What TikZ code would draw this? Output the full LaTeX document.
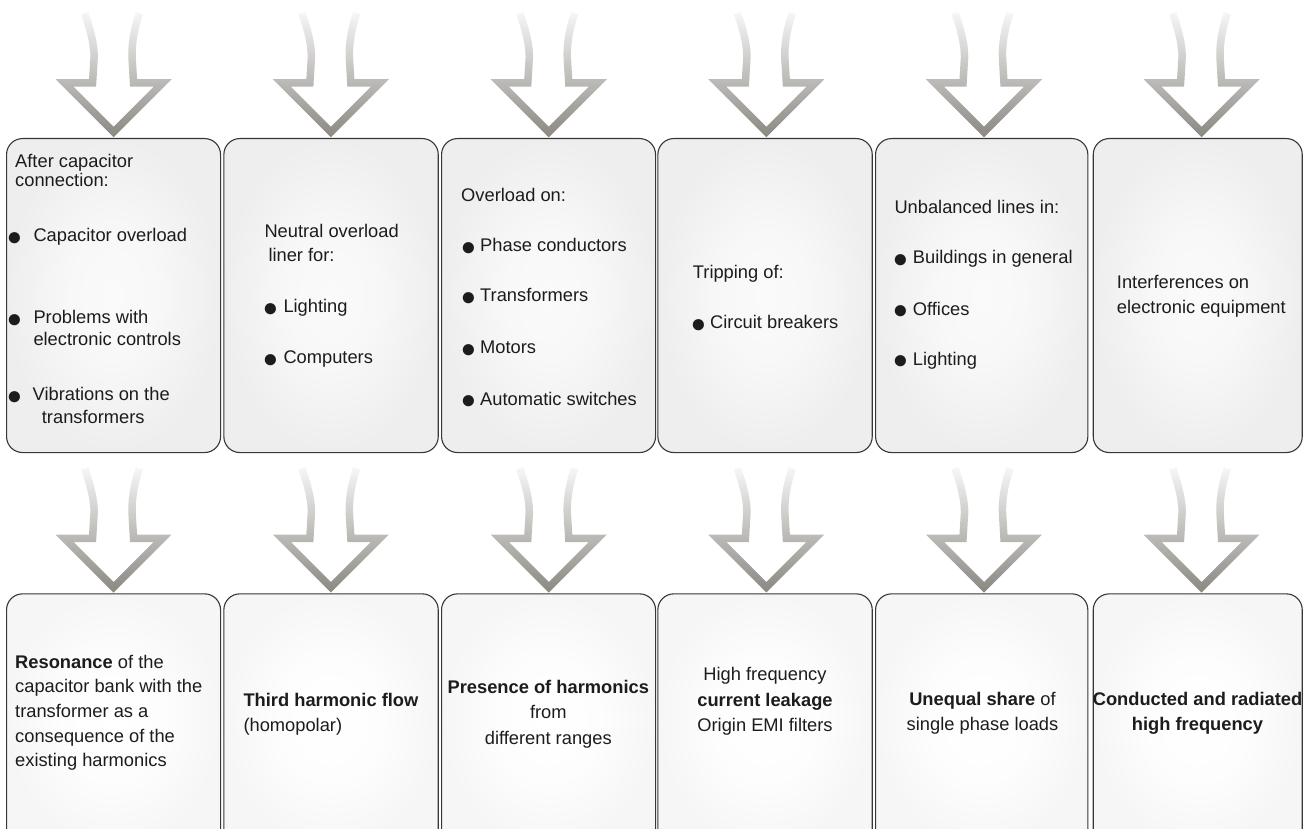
\documentclass[tikz,border=0pt]{standalone}
\usepackage{fontspec}
\setmainfont{Liberation Sans}
\usetikzlibrary{fadings}

\definecolor{inkc}{RGB}{30,27,28}
\definecolor{edgec}{RGB}{55,55,55}
\definecolor{arrowc}{RGB}{140,137,131}
\definecolor{topmid}{RGB}{250,250,250}
\definecolor{topsoft}{RGB}{248,248,248}
\definecolor{toprim}{RGB}{238,238,238}
\definecolor{botmid}{RGB}{255,255,255}
\definecolor{botsoft}{RGB}{253,253,253}
\definecolor{botrim}{RGB}{246,246,246}

% soft glow inside the panels
\pgfdeclareradialshading{topglow}{\pgfpoint{0bp}{0bp}}{%
  color(0bp)=(topmid); color(10bp)=(topsoft);
  color(25bp)=(toprim); color(50bp)=(toprim)}
\pgfdeclareradialshading{botglow}{\pgfpoint{0bp}{0bp}}{%
  color(0bp)=(botmid); color(12bp)=(botsoft);
  color(25bp)=(botrim); color(50bp)=(botrim)}

% the hollow arrows fade out towards their open upper end
\tikzfading[name=arrowfade, top color=transparent!95, bottom color=transparent!0]

\begin{document}
\begin{tikzpicture}[x=1pt, y=-1pt,
  panel/.style={draw=edgec, line width=1.1pt, rounded corners=16pt,
    anchor=north west, inner sep=0pt, shade},
  toppanel/.style={panel, minimum height=314pt, shading=topglow},
  botpanel/.style={panel, minimum height=252pt, shading=botglow},
  flowarrow/.style={draw=arrowc, line width=7.5pt, line join=miter, path fading=arrowfade},
  txt/.style={anchor=base west, inner sep=0pt, text=inkc,
    font=\fontsize{18.3}{22}\selectfont},
  ctxt/.style={txt, anchor=base},
  dot/.style={txt, font=\fontsize{26}{26}\selectfont},
  pics/downarrow/.style={code={
    \draw[flowarrow]
      (-29,-125) .. controls (-23,-108) and (-19,-92) .. (-19.5,-80)
      -- (-21,-55) -- (-49,-55) -- (0,-6) -- (49,-55) -- (20,-55)
      -- (18.5,-80) .. controls (18,-92) and (20,-108) .. (26,-125);
  }}
]
\useasboundingbox (0,0) rectangle (1309,829);

% ---- upper row of panels
\node[toppanel, minimum width=214pt]   (b1) at (6,138) {};
\node[toppanel, minimum width=214.4pt] (b2) at (223.3,138) {};
\node[toppanel, minimum width=214pt]   (b3) at (441,138) {};
\node[toppanel, minimum width=214.4pt] (b4) at (657.3,138) {};
\node[toppanel, minimum width=212.3pt] (b5) at (875,138) {};
\node[toppanel, minimum width=209pt]   (b6) at (1092.7,138) {};

% ---- lower row of panels
\node[botpanel, minimum width=214pt]   (c1) at (6,593.3) {};
\node[botpanel, minimum width=214.4pt] (c2) at (223.3,593.3) {};
\node[botpanel, minimum width=214pt]   (c3) at (441,593.3) {};
\node[botpanel, minimum width=214.4pt] (c4) at (657.3,593.3) {};
\node[botpanel, minimum width=212.3pt] (c5) at (875,593.3) {};
\node[botpanel, minimum width=209pt]   (c6) at (1092.7,593.3) {};

% ---- arrows into the panels
\pic at (b1.north) {downarrow};
\pic at ([xshift=-0.2pt]b2.north) {downarrow};
\pic at ([xshift=0.2pt]b3.north) {downarrow};
\pic at ([xshift=1.3pt]b4.north) {downarrow};
\pic at ([xshift=2.3pt]b5.north) {downarrow};
\pic at ([xshift=3.8pt]b6.north) {downarrow};
\pic at (c1.north) {downarrow};
\pic at ([xshift=-0.2pt]c2.north) {downarrow};
\pic at ([xshift=0.2pt]c3.north) {downarrow};
\pic at ([xshift=1.3pt]c4.north) {downarrow};
\pic at ([xshift=2.3pt]c5.north) {downarrow};
\pic at ([xshift=3.8pt]c6.north) {downarrow};

% ---- upper row texts
\node[txt] (t11) at (15,168) {After capacitor};
\node[txt] (t12) at (15,186.7) {connection:};
\node[dot] (d13) at (6.5,245.5) {●};
\node[txt] (t13) at (33.3,241.7) {Capacitor overload};
\node[dot] (d14) at (6.5,327.5) {●};
\node[txt] (t14) at (33.3,323.3) {Problems with};
\node[txt] (t15) at (33.3,345) {electronic controls};
\node[dot] (d16) at (6.5,404) {●};
\node[txt] (t16) at (32.5,400) {Vibrations on the};
\node[txt] (t17) at (41.7,423.3) {transformers};

\node[txt] (t21) at (264.3,237.3) {Neutral overload};
\node[txt] (t22) at (268.3,261.7) {liner for:};
\node[dot] (d23) at (262.5,316.5) {●};
\node[txt] (t23) at (283.3,312.7) {Lighting};
\node[dot] (d24) at (262.5,367) {●};
\node[txt] (t24) at (283.3,363.3) {Computers};

\node[txt] (t31) at (461,201.7) {Overload on:};
\node[dot] (d32) at (460.5,255.5) {●};
\node[txt] (t32) at (480,251.7) {Phase conductors};
\node[dot] (d33) at (460.5,305.5) {●};
\node[txt] (t33) at (480,301.7) {Transformers};
\node[dot] (d34) at (460.5,357) {●};
\node[txt] (t34) at (480,353.3) {Motors};
\node[dot] (d35) at (460.5,408.8) {●};
\node[txt] (t35) at (480,405) {Automatic switches};

\node[txt] (t41) at (692.7,278.3) {Tripping of:};
\node[dot] (d42) at (690.5,332) {●};
\node[txt] (t42) at (710,328.3) {Circuit breakers};

\node[txt] (t51) at (894.3,213.3) {Unbalanced lines in:};
\node[dot] (d52) at (892.5,267) {●};
\node[txt] (t52) at (912.7,263.3) {Buildings in general};
\node[dot] (d53) at (892.5,318.8) {●};
\node[txt] (t53) at (912.7,315) {Offices};
\node[dot] (d54) at (892.5,368.8) {●};
\node[txt] (t54) at (912.7,365) {Lighting};

\node[txt] (t61) at (1116.7,288.3) {Interferences on};
\node[txt] (t62) at (1116.7,313.3) {electronic equipment};

% ---- lower row texts
\node[txt] (u11) at (15,668.3) {\textbf{Resonance} of the};
\node[txt] (u12) at (15,692.9) {capacitor bank with the};
\node[txt] (u13) at (15,717.5) {transformer as a};
\node[txt] (u14) at (15,742.1) {consequence of the};
\node[txt] (u15) at (15,766.7) {existing harmonics};

\node[txt] (u21) at (243.3,706.7) {\textbf{Third harmonic flow}};
\node[txt] (u22) at (243.3,731.7) {(homopolar)};

\node[ctxt] (u31) at (548.3,693.3) {\textbf{Presence of harmonics}};
\node[ctxt] (u32) at (548.3,718.3) {from};
\node[ctxt] (u33) at (548.3,744) {different ranges};

\node[ctxt] (u41) at (765,680) {High frequency};
\node[ctxt] (u42) at (765,706) {\textbf{current leakage}};
\node[ctxt] (u43) at (765,731.7) {Origin EMI filters};

\node[ctxt] (u51) at (982.5,705) {\textbf{Unequal share} of};
\node[ctxt] (u52) at (982.5,730.7) {single phase loads};

\node[ctxt] (u61) at (1197.5,705) {\textbf{Conducted and radiated}};
\node[ctxt] (u62) at (1197.5,730) {\textbf{high frequency}};
\end{tikzpicture}
\end{document}
